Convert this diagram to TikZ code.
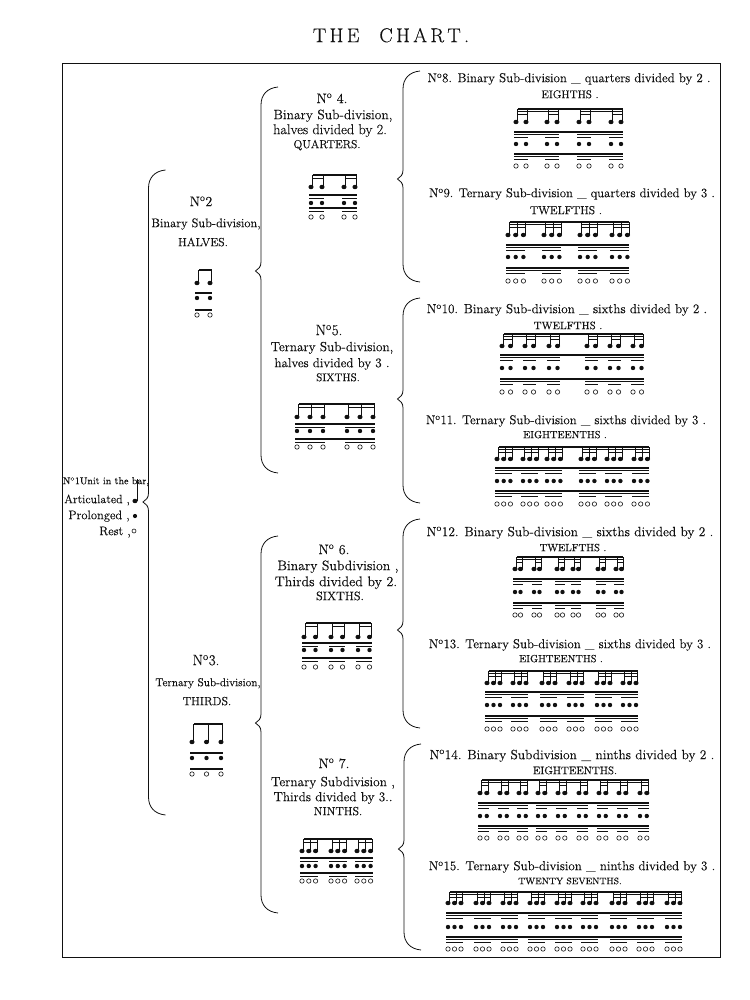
\documentclass[tikz,border=0pt]{standalone}
\usepackage{fontspec}
\setmainfont{Latin Modern Roman}[FakeBold=0.25]
\usepackage{xcolor}
\definecolor{inkblack}{HTML}{111111}
\usetikzlibrary{positioning}
\newcommand{\Nn}{N\textsuperscript{o}}
\newcommand{\fs}[1]{\fontsize{#1}{#1}\selectfont}
\def\pickfirst#1,#2\relax{#1}
% brace: name, spine x, top y, tip y, bottom y
\newcommand{\chartbrace}[5]{%
  \coordinate (#1top) at (#2+17,#3);
  \coordinate (#1tip) at (#2-5.5,#4);
  \coordinate (#1bot) at (#2+17,#5);
  \draw[bracket] (#1top) .. controls +(-11,1) and +(0,-10) .. (#2,#3+18) -- (#2,#4-9)
    .. controls +(0,5) and +(3,-2) .. (#1tip) .. controls +(3,2) and +(0,-5) .. (#2,#4+9)
    -- (#2,#5-18) .. controls +(0,10) and +(-11,-1) .. (#1bot);
}
% rhythm: levels, beam y, group x-list, notes-1, head gap, last head x, middle spans, offsets
\newcommand{\rhythm}[8]{%
  \edef\firsthead{\pickfirst#3,\relax}%
  \ifnum#1=3 \def\lvlgap{2.5}\else \def\lvlgap{3.5}\fi
  \foreach \hd/\ra/\da/\rb/\db in {#8} {
    \draw[mainbeam] (\firsthead+1.8,#2) -- (#6+1.8,#2);
    \draw[mainbeam] (\firsthead-2,#2+\ra) -- (#6+2,#2+\ra);
    \draw[mainbeam] (\firsthead-2,#2+\rb) -- (#6+2,#2+\rb);
    \foreach \gx in {#3} {
      \ifnum#1>1
        \draw[subbeam] (\gx+1.8,#2+#1*\lvlgap-\lvlgap) -- (\gx+#4*#5+1.8,#2+#1*\lvlgap-\lvlgap);
        \draw[subbeam] (\gx-2,#2+\ra+#1*\lvlgap-\lvlgap) -- (\gx+#4*#5+2,#2+\ra+#1*\lvlgap-\lvlgap);
        \draw[subbeam] (\gx-2,#2+\rb+#1*\lvlgap-\lvlgap) -- (\gx+#4*#5+2,#2+\rb+#1*\lvlgap-\lvlgap);
      \fi
      \foreach \k in {0,...,#4} {
        \draw[stem] (\gx+\k*#5+1.8,#2) -- (\gx+\k*#5+1.8,#2+\hd);
        \fill[inkblack] (\gx+\k*#5,#2+\hd) ellipse (2.6 and 2.2);
        \fill[inkblack] (\gx+\k*#5,#2+\da) circle (2.2);
        \draw[restmark] (\gx+\k*#5,#2+\db) circle (2.2);
      }
    }
    \ifnum#1=3
      \foreach \sa/\sb in {#7} {
        \draw[subbeam] (\sa+1.8,#2+\lvlgap) -- (\sb+1.8,#2+\lvlgap);
        \draw[subbeam] (\sa-2,#2+\ra+\lvlgap) -- (\sb+2,#2+\ra+\lvlgap);
        \draw[subbeam] (\sa-2,#2+\rb+\lvlgap) -- (\sb+2,#2+\rb+\lvlgap);
      }
    \fi
  }
}
\begin{document}
\begin{tikzpicture}[
x=1pt, y=-1pt,
bracket/.style={draw=inkblack, line width=0.8pt},
mainbeam/.style={draw=inkblack, line width=1.1pt},
subbeam/.style={draw=inkblack, line width=0.9pt},
stem/.style={draw=inkblack, line width=0.7pt},
restmark/.style={draw=inkblack, line width=0.6pt},
textline/.style={anchor=mid, inner sep=0pt, yshift=-2pt, text=inkblack, font=\fs{12.5}},
capsline/.style={anchor=mid, inner sep=0pt, yshift=-2pt, text=inkblack, font=\fs{11}},
numline/.style={anchor=mid, inner sep=0pt, yshift=-2pt, text=inkblack, font=\fs{14}}
]
\useasboundingbox (0,0) rectangle (749,1000);

% --- Title and frame ---
\node (title) [anchor=mid, inner sep=0pt, text=inkblack, font=\fs{20}] at (391,40) {T\,H\,E\quad C\,H\,A\,R\,T\,.};
\draw[line width=0.9pt, draw=inkblack] (62,63) rectangle (720,957);

% --- Braces ---
\chartbrace{bone}{148.5}{170}{502}{815}
\chartbrace{btwo}{261}{87}{271}{473}
\chartbrace{bthree}{261}{536}{723}{913}
\chartbrace{bfour}{403}{71}{179}{282}
\chartbrace{bfive}{403}{298}{399}{503}
\chartbrace{bsix}{403}{519}{630}{728}
\chartbrace{bseven}{404}{744}{849}{950}

% --- No 1: the unit ---
\node (n1a) [textline, font=\fs{10}] at (106,480) {\Nn 1Unit in the bar,};
\node (n1b) [textline, font=\fs{12}] at (97,499) {Articulated ,};
\node (n1c) [textline] at (99,515) {Prolonged ,};
\node (n1d) [textline] at (115,531) {Rest ,};
\draw[stem] (137,479) -- (137,501);
\fill[inkblack] (135,501) ellipse (2.6 and 2.2);
\fill[inkblack] (135,516) circle (2.1);
\draw[restmark] (134,531) circle (2);

% --- No 2 and No 3 ---
\node (n2a) [numline] at (201,202) {\Nn 2};
\node (n2b) [textline] at (206,223) {Binary Sub-division,};
\node (n2c) [capsline, font=\fs{11.9}] at (203,242) {HALVES.};
\rhythm{1}{270}{197}{1}{13}{210}{}{13/23/28/40/45}

\node (n3a) [numline, font=\fs{15}] at (206,661) {\Nn 3.};
\node (n3b) [textline, font=\fs{11.4}] at (208,682) {Ternary Sub-division,};
\node (n3c) [capsline, font=\fs{11.9}] at (207,701) {THIRDS.};
\rhythm{1}{724}{192}{2}{14.5}{221}{}{18/29/34/45/50}

% --- No 4 to No 7 ---
\node (n4a) [numline] at (332,99) {\Nn\ 4.};
\node (n4b) [textline, font=\fs{13.6}] at (333,115) {Binary Sub-division,};
\node (n4c) [textline, font=\fs{14.3}] at (330,130) {halves divided by 2.};
\node (n4d) [capsline, font=\fs{11.6}] at (327,144) {QUARTERS.};
\rhythm{2}{175}{311,344}{1}{11}{355}{}{12/20/28/33/42}

\node (n5a) [numline, font=\fs{15}] at (329,331) {\Nn 5.};
\node (n5b) [textline, font=\fs{13.3}] at (332,347) {Ternary Sub-division,};
\node (n5c) [textline, font=\fs{13}] at (332,363) {halves divided by 3 .};
\node (n5d) [capsline, font=\fs{11.2}] at (338,377) {SIXTHS.};
\rhythm{2}{404}{297,347}{2}{13}{373}{}{13/20/27/35/43}

\node (n6a) [numline] at (334,550) {\Nn\ 6.};
\node (n6b) [textline, font=\fs{13.8}] at (338,566) {Binary Subdivision ,};
\node (n6c) [textline, font=\fs{14}] at (336,582) {Thirds divided by 2.};
\node (n6d) [capsline, font=\fs{12.3}] at (340,596) {SIXTHS.};
\rhythm{2}{623}{304,331,358}{1}{11.5}{369.5}{}{14/20/27/35/44}

\node (n7a) [numline] at (334,764) {\Nn\ 7.};
\node (n7b) [textline, font=\fs{13.4}] at (333,782) {Ternary Subdivision ,};
\node (n7c) [textline, font=\fs{13.2}] at (333,797) {Thirds divided by 3..};
\node (n7d) [capsline, font=\fs{11.9}] at (338,811) {NINTHS.};
\rhythm{2}{839}{302,331,357}{2}{6.8}{370.6}{}{12/19/27/34/42}

% --- No 8 to No 15 ---
\node (n8a) [textline, font=\fs{12.9}] at (569,78) {\Nn 8. Binary Sub-division \_ quarters divided by 2 .};
\node (n8b) [capsline, font=\fs{11.2}] at (570,94) {EIGHTHS .};
\rhythm{3}{109}{516,547,579,611}{1}{10}{621}{516/557,579/621}{13/23/35/45/57}

\node (n9a) [textline, font=\fs{12.75}] at (572,193) {\Nn 9. Ternary Sub-division \_ quarters divided by 3 .};
\node (n9b) [capsline, font=\fs{11.6}] at (566,210) {TWELFTHS .};
\rhythm{3}{222}{508,544,580,612}{2}{7.7}{627.4}{508/559.4,580/627.4}{13/23/35/46/59}

\node (n10a) [textline, font=\fs{13.1}] at (567,309) {\Nn 10. Binary Sub-division \_ sixths divided by 2 .};
\node (n10b) [capsline, font=\fs{10.8}] at (568,325) {TWELFTHS .};
\rhythm{3}{334}{502,525,549,587,610,633}{1}{8.5}{641.5}{502/557.5,587/641.5}{12/21/34/45/58}

\node (n11a) [textline, font=\fs{12.8}] at (566,420) {\Nn 11. Ternary Sub-division \_ sixths divided by 3 .};
\node (n11b) [capsline, font=\fs{10.4}] at (565,434) {EIGHTEENTHS .};
\rhythm{3}{447}{497,523,547,581,607,634}{2}{6.7}{647.4}{497/560.4,581/647.4}{12/21/34/44/57}

\node (n12a) [textline, font=\fs{13.4}] at (570,532) {\Nn 12. Binary Sub-division \_ sixths divided by 2 .};
\node (n12b) [capsline, font=\fs{10.5}] at (573,547) {TWELFTHS .};
\rhythm{3}{557}{515,534,557,573,598,616}{1}{5.5}{621.5}{515/539.5,557/578.5,598/621.5}{12/22/35/46/58}

\node (n13a) [textline, font=\fs{12.9}] at (570,644) {\Nn 13. Ternary Sub-division \_ sixths divided by 3 .};
\node (n13b) [capsline, font=\fs{10.4}] at (561,658) {EIGHTEENTHS .};
\rhythm{3}{671}{487,513,542,569,597,623}{2}{6.5}{636}{487/526,542/582,597/636}{12/21/34/45/58}

\node (n14a) [textline, font=\fs{13.4}] at (572,755) {\Nn 14. Binary Subdivision \_ ninths divided by 2 .};
\node (n14b) [capsline, font=\fs{10.9}] at (575,770) {EIGHTEENTHS.};
\rhythm{3}{780}{480,500,519,538,558,579,599,619,640}{1}{6.8}{646.8}{480/525.8,538/585.8,599/646.8}{13/23/36/46/58}

\node (n15a) [textline, font=\fs{13}] at (572,866) {\Nn 15. Ternary Sub-division \_ ninths divided by 3 .};
\node (n15b) [capsline, font=\fs{9.4}] at (570,880) {TWENTY SEVENTHS.};
\rhythm{3}{892}{448,476,503,530,557,583,612,639,667}{2}{6.5}{680}{448/516,530/596,612/680}{11/21/35/45/57}

\end{tikzpicture}
\end{document}
